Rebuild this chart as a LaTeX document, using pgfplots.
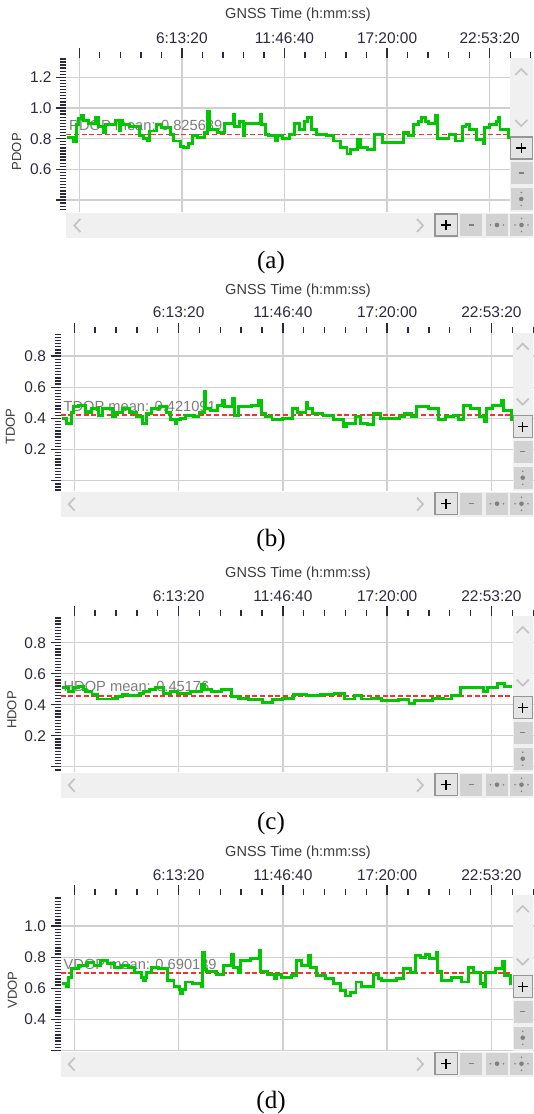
\documentclass[border=0pt]{standalone}
\usepackage{fontspec}
\setmainfont{Liberation Sans}
\newfontfamily\capfont{Liberation Serif}
\usepackage{pgfplots}
\pgfplotsset{compat=1.18}

\definecolor{gridc}{RGB}{208,208,208}
\definecolor{dopgreen}{RGB}{0,200,0}
\definecolor{meanred}{RGB}{255,45,45}
\definecolor{tickc}{RGB}{45,40,60}
\definecolor{labc}{RGB}{60,60,60}
\definecolor{meanc}{RGB}{125,125,125}
\definecolor{wbg}{RGB}{240,240,240}
\definecolor{btn}{RGB}{210,210,210}
\definecolor{btnon}{RGB}{228,228,228}
\definecolor{btnedge}{RGB}{150,150,150}
\definecolor{chev}{RGB}{195,195,195}

\pgfplotsset{
  dop/.style={
    scale only axis,
    anchor=south west,
    axis background/.style={fill=white},
    axis line style={draw=none},
    tick align=outside,
    xtick pos=right, xticklabel pos=right,
    ytick pos=left,
    scaled x ticks=false, scaled y ticks=false,
    major tick length=7.5pt, minor tick length=4.5pt,
    tick style={tickc, line width=1pt},
    grid=major,
    major grid style={gridc, line width=1pt},
    xtick={2400,22400,42400,62400,82400},
    xticklabels={,6:13:20,11:46:40,17:20:00,22:53:20},
    minor xtick={2400,6400,...,90400},
    ticklabel style={font=\fontsize{11.6}{13}\selectfont, text=tickc},
  },
  dopline/.style={const plot, dopgreen, line width=2.2pt},
  meanline/.style={meanred, line width=1.1pt, dash pattern=on 3.75pt off 2pt},
}

% scroll bar and zoom buttons of the viewer, in pixels
\newcommand{\widget}[4]{%
  \pgfmathsetmacro\cx{(#2+533)/2}
  \fill[wbg] (#2,#3) rectangle (533,#4);
  \fill[wbg] (#1,#4+1) rectangle (533,#4+26);
  \draw[chev, line width=1.3pt] (\cx-6,#3+17) -- (\cx,#3+11) -- (\cx+6,#3+17);
  \draw[chev, line width=1.3pt] (\cx-6,#4-92) -- (\cx,#4-86) -- (\cx+6,#4-92);
  \filldraw[fill=btnon, draw=btnedge, line width=0.8pt] (#2+1,#4-75) rectangle (532.5,#4-53);
  \draw[black, line width=1pt] (\cx-5,#4-64) -- (\cx+5,#4-64) (\cx,#4-69) -- (\cx,#4-59);
  \fill[btn] (#2+1,#4-50) rectangle (532.5,#4-28);
  \draw[gray, line width=0.8pt] (\cx-2.5,#4-39) -- (\cx+2.5,#4-39);
  \fill[btn] (#2+1,#4-24) rectangle (532.5,#4-2);
  \fill[gray] (\cx,#4-13) circle (2.3) (\cx,#4-19.5) circle (0.9) (\cx,#4-6.5) circle (0.9);
  \draw[chev, line width=1.3pt] (#1+14,#4+7) -- (#1+8,#4+13.5) -- (#1+14,#4+20);
  \draw[chev, line width=1.3pt] (417,#4+7) -- (423,#4+13.5) -- (417,#4+20);
  \filldraw[fill=btnon, draw=btnedge, line width=0.8pt] (435,#4+2) rectangle (457.5,#4+24);
  \draw[black, line width=1pt] (441,#4+13) -- (451,#4+13) (446,#4+8) -- (446,#4+18);
  \fill[btn] (460,#4+2) rectangle (482,#4+24);
  \draw[gray, line width=0.8pt] (468.5,#4+13) -- (473.5,#4+13);
  \fill[btn] (486,#4+2) rectangle (508,#4+24);
  \fill[gray] (497,#4+13) circle (2.3) (490.5,#4+13) circle (0.9) (503.5,#4+13) circle (0.9);
  \fill[btn] (510,#4+2) rectangle (533,#4+24);
  \fill[gray] (521.5,#4+13) circle (2.3) (515,#4+13) circle (0.9) (528,#4+13) circle (0.9)
     (521.5,#4+6.5) circle (0.9) (521.5,#4+19.5) circle (0.9);
}

\begin{document}
\begin{tikzpicture}[x=0.75pt,y=-0.75pt]
\useasboundingbox (0,0) rectangle (533,1114);

% ---------------- (a) PDOP
\begin{axis}[dop, at={(49.725pt,-159pt)}, width=350.25pt, height=115.5pt,
  xmin=-134, xmax=90899, ymin=0.322, ymax=1.326,
  ytick={0.4,0.6,0.8,1.0,1.2}, yticklabels={,0.6,0.8,1.0,1.2},
  minor ytick={0.34,0.36,...,1.32}]
\node[anchor=base west, inner sep=0pt, xshift=2pt, yshift=3pt, text=meanc,
  font=\fontsize{11}{12}\selectfont] at (axis cs:-134,0.825689) {PDOP mean: 0.825689};
\addplot[meanline] coordinates {(-134,0.825689) (86300,0.825689)};
\addplot[dopline] coordinates {
(0,0.81) (1207,0.78) (1870,0.89) (2201,0.93) (2864,0.95) (3300,0.92) (4190,0.9)
(5516,0.94) (6179,0.88) (7174,0.84) (7505,0.89) (9494,0.92) (10157,0.85) (10500,0.92)
(10820,0.89) (12146,0.88) (14135,0.82) (15000,0.8) (15594,0.785) (16124,0.85)
(17450,0.89) (18445,0.87) (20102,0.83) (20765,0.785) (22091,0.75) (22700,0.74)
(23749,0.77) (24412,0.82) (25406,0.81) (26732,0.84) (27395,0.98) (27727,0.86)
(29384,0.84) (30710,0.9) (32368,0.96) (32699,0.88) (33694,0.915) (34357,0.82)
(34688,0.9) (36014,0.9) (37672,0.96) (38003,0.89) (38666,0.83) (39329,0.82)
(40655,0.785) (41000,0.82) (41981,0.8) (43307,0.83) (44302,0.9) (45296,0.86)
(46291,0.915) (46954,0.94) (47617,0.86) (48611,0.83) (50600,0.82) (51926,0.785)
(53252,0.74) (54578,0.70) (55241,0.73) (56567,0.795) (57230,0.74) (58556,0.73)
(59882,0.83) (61540,0.775) (65518,0.84) (66512,0.82) (67507,0.89) (68502,0.915)
(69165,0.94) (69800,0.915) (70490,0.9) (71816,0.95) (72148,0.8) (73142,0.8)
(74468,0.83) (75794,0.785) (77120,0.88) (77783,0.89) (78446,0.86) (79772,0.795)
(81098,0.77) (81400,0.87) (82424,0.89) (83750,0.91) (84082,0.94) (84413,0.86)
(86071,0.81) (86300,0.81)};
\end{axis}
\widget{66.3}{509.5}{58}{212}
\node[font=\fontsize{10.9}{12}\selectfont, text=labc] at (298,15) {GNSS Time (h:mm:ss)};
\node[rotate=90, font=\fontsize{9.8}{11}\selectfont, text=labc] at (16.7,151.7) {PDOP};
\node[font=\capfont\fontsize{18.75}{20}\selectfont] at (271,262) {(a)};

% ---------------- (b) TDOP
\begin{axis}[dop, at={(45.525pt,-368.025pt)}, width=354.75pt, height=118.5pt,
  xmin=-205, xmax=90500, ymin=-0.064, ymax=0.95,
  ytick={0,0.2,0.4,0.6,0.8}, yticklabels={,0.2,0.4,0.6,0.8},
  minor ytick={-0.06,-0.04,...,0.94}]
\node[anchor=base west, inner sep=0pt, xshift=2pt, yshift=3pt, text=meanc,
  font=\fontsize{11}{12}\selectfont] at (axis cs:-205,0.421091) {TDOP mean: 0.421091};
\addplot[meanline] coordinates {(-205,0.421091) (86400,0.421091)};
\addplot[dopline] coordinates {
(0,0.4) (902,0.37) (1879,0.44) (2205,0.475) (3182,0.48) (4485,0.44) (5788,0.465)
(7091,0.42) (7742,0.465) (9697,0.41) (10348,0.44) (11651,0.465) (12954,0.44)
(14257,0.41) (15560,0.37) (16212,0.43) (17189,0.465) (18818,0.475) (20121,0.44)
(20772,0.39) (21750,0.37) (22100,0.39) (22727,0.4) (23704,0.42) (25333,0.41)
(26310,0.44) (27287,0.57) (27613,0.465) (28590,0.45) (29893,0.485) (30871,0.515)
(31196,0.475) (32825,0.53) (33151,0.42) (33802,0.475) (36408,0.485) (37711,0.515)
(38363,0.43) (39014,0.41) (40317,0.39) (42272,0.4) (44226,0.465) (45204,0.44)
(46833,0.505) (47158,0.465) (48135,0.43) (50090,0.42) (52044,0.39) (53999,0.35)
(54650,0.37) (56279,0.41) (57256,0.37) (58559,0.36) (59862,0.43) (61165,0.4)
(64749,0.41) (65726,0.43) (67029,0.41) (68006,0.475) (70286,0.465) (72241,0.39)
(73544,0.41) (75173,0.42) (76150,0.39) (77127,0.485) (78430,0.465) (80059,0.41)
(81036,0.38) (81362,0.465) (82665,0.485) (84294,0.515) (84620,0.45) (86249,0.39)
(86400,0.39)};
\end{axis}
\widget{60.7}{512.5}{332.7}{490.7}
\node[font=\fontsize{10.9}{12}\selectfont, text=labc] at (298,290.7) {GNSS Time (h:mm:ss)};
\node[rotate=90, font=\fontsize{9.8}{11}\selectfont, text=labc] at (10.5,426.7) {TDOP};
\node[font=\capfont\fontsize{18.75}{20}\selectfont] at (271,540) {(b)};

% ---------------- (c) HDOP
\begin{axis}[dop, at={(45.525pt,-578.775pt)}, width=354.75pt, height=116.775pt,
  xmin=-205, xmax=90500, ymin=-0.032, ymax=0.972,
  ytick={0,0.2,0.4,0.6,0.8}, yticklabels={,0.2,0.4,0.6,0.8},
  minor ytick={-0.02,0,...,0.96}]
\node[anchor=base west, inner sep=0pt, xshift=2pt, yshift=3pt, text=meanc,
  font=\fontsize{11}{12}\selectfont] at (axis cs:-205,0.457) {HDOP mean: 0.45176};
\addplot[meanline] coordinates {(-205,0.457) (86400,0.457)};
\addplot[dopline] coordinates {
(0,0.51) (1224,0.485) (2204,0.51) (3184,0.52) (4165,0.50) (4492,0.485) (5799,0.465)
(6779,0.437) (9720,0.443) (10701,0.454) (11681,0.465) (12662,0.458) (14949,0.475)
(15603,0.486) (16910,0.497) (17890,0.51) (19524,0.475) (20832,0.486) (22139,0.475)
(24753,0.486) (26714,0.53) (27368,0.497) (28675,0.486) (30636,0.497) (32596,0.454)
(33904,0.443) (35865,0.432) (38479,0.415) (40440,0.432) (42400,0.443) (44361,0.465)
(46976,0.458) (49590,0.465) (52204,0.47) (54165,0.437) (56126,0.458) (57433,0.437)
(59394,0.443) (61355,0.426) (64623,0.432) (66584,0.406) (67564,0.426) (71159,0.443)
(73120,0.437) (74754,0.458) (76388,0.51) (80963,0.486) (81617,0.514) (83578,0.535)
(84885,0.518) (86400,0.518)};
\end{axis}
\widget{60.7}{512.5}{616}{771.7}
\node[font=\fontsize{10.9}{12}\selectfont, text=labc] at (298,574) {GNSS Time (h:mm:ss)};
\node[rotate=90, font=\fontsize{9.8}{11}\selectfont, text=labc] at (12,710) {HDOP};
\node[font=\capfont\fontsize{18.75}{20}\selectfont] at (271,823) {(c)};

% ---------------- (d) VDOP
\begin{axis}[dop, at={(45.525pt,-788.025pt)}, width=354.75pt, height=116.775pt,
  xmin=-205, xmax=90500, ymin=0.198, ymax=1.2,
  ytick={0.2,0.4,0.6,0.8,1.0}, yticklabels={,0.4,0.6,0.8,1.0},
  minor ytick={0.2,0.22,...,1.18}]
\node[anchor=base west, inner sep=0pt, xshift=2pt, yshift=3pt, text=meanc,
  font=\fontsize{11}{12}\selectfont] at (axis cs:-205,0.697) {VDOP mean: 0.690139};
\addplot[meanline] coordinates {(-205,0.697) (86400,0.697)};
\addplot[dopline] coordinates {
(0,0.63) (965,0.61) (1291,0.67) (1943,0.725) (3248,0.745) (4880,0.765) (6185,0.745)
(7490,0.78) (8795,0.76) (10100,0.735) (11405,0.745) (12710,0.735) (14015,0.70)
(15320,0.67) (15646,0.65) (16000,0.67) (16298,0.70) (17277,0.735) (18582,0.725)
(20213,0.65) (21518,0.61) (22497,0.59) (22823,0.565) (23200,0.59) (23802,0.64)
(25107,0.63) (26738,0.61) (27065,0.83) (27400,0.72) (27717,0.71) (29675,0.69)
(30980,0.745) (32611,0.82) (32938,0.735) (33917,0.70) (34243,0.78) (36200,0.79)
(37831,0.84) (38158,0.71) (39463,0.69) (40768,0.66) (41200,0.69) (42073,0.67)
(44030,0.68) (45009,0.78) (45988,0.745) (47293,0.81) (47619,0.735) (48924,0.68)
(50556,0.66) (52187,0.63) (53492,0.585) (54470,0.55) (55449,0.57) (56428,0.64)
(57407,0.61) (59690,0.69) (60669,0.66) (61322,0.65) (64258,0.66) (65563,0.725)
(66868,0.70) (67847,0.81) (68826,0.80) (69804,0.82) (70457,0.79) (71762,0.83)
(72088,0.71) (72741,0.65) (74699,0.67) (76656,0.64) (77961,0.735) (78940,0.70)
(80245,0.63) (80897,0.61) (81223,0.70) (83181,0.725) (84486,0.77) (84812,0.68)
(86118,0.63) (86400,0.63)};
\end{axis}
\widget{60.7}{512.5}{895}{1050.7}
\node[font=\fontsize{10.9}{12}\selectfont, text=labc] at (298,852.7) {GNSS Time (h:mm:ss)};
\node[rotate=90, font=\fontsize{9.8}{11}\selectfont, text=labc] at (12.5,990) {VDOP};
\node[font=\capfont\fontsize{18.75}{20}\selectfont] at (271,1102) {(d)};
\end{tikzpicture}
\end{document}
